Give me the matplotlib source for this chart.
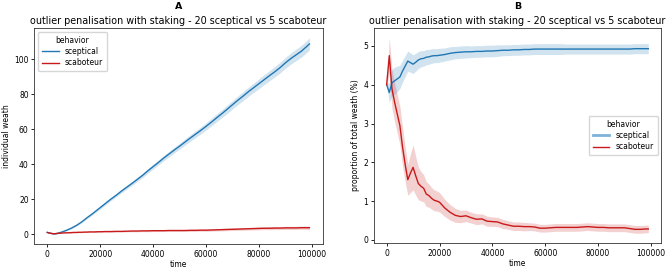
import matplotlib
matplotlib.use("Agg")
import matplotlib.pyplot as plt
from matplotlib.lines import Line2D
import numpy as np

# time grid (steps of 1000 early on, then 2000)
time = [0, 1000, 2000, 3000, 4000, 5000, 6000, 7000, 8000, 9000, 10000,
        11000, 12000, 13000, 14000, 15000, 16000, 17000, 18000, 19000, 20000,
        22000, 24000, 26000, 28000, 30000, 32000, 34000, 36000, 38000, 40000,
        42000, 44000, 46000, 48000, 50000, 52000, 54000, 56000, 58000, 60000,
        62000, 64000, 66000, 68000, 70000, 72000, 74000, 76000, 78000, 80000,
        82000, 84000, 86000, 88000, 90000, 92000, 94000, 96000, 98000, 99000]

# panel A: individual wealth
wealth_scept = [1.0, 0.6, 0.3, 0.2, 0.5, 1.0, 1.5, 2.1, 2.7, 3.4, 4.2,
                5.0, 6.0, 7.0, 8.2, 9.4, 10.5, 11.6, 12.8, 14.0, 15.2,
                17.6, 20.0, 22.2, 24.6, 26.8, 29.0, 31.3, 33.6, 36.2, 38.6,
                41.0, 43.5, 45.8, 48.1, 50.3, 52.6, 54.9, 57.1, 59.3, 61.6,
                64.0, 66.5, 68.9, 71.4, 74.0, 76.5, 78.9, 81.4, 83.7, 86.0,
                88.3, 90.6, 92.8, 95.2, 97.9, 100.3, 102.4, 104.5, 107.2, 108.6]
wealth_scept_ci = [0.1, 0.15, 0.2, 0.2, 0.25, 0.3, 0.3, 0.35, 0.35, 0.4, 0.45,
                   0.45, 0.5, 0.5, 0.55, 0.6, 0.6, 0.65, 0.7, 0.75, 0.8,
                   0.85, 0.9, 0.95, 1.0, 1.05, 1.1, 1.2, 1.25, 1.3, 1.4,
                   1.45, 1.5, 1.6, 1.65, 1.7, 1.75, 1.85, 1.9, 2.0, 2.1,
                   2.15, 2.2, 2.3, 2.35, 2.4, 2.5, 2.55, 2.6, 2.7, 2.8,
                   2.85, 2.9, 3.0, 3.05, 3.1, 3.2, 3.3, 3.35, 3.45, 3.5]
wealth_sabo = [1.0, 0.6, 0.3, 0.3, 0.5, 0.6, 0.7, 0.8, 0.8, 0.9, 1.0,
               1.0, 1.1, 1.1, 1.2, 1.2, 1.3, 1.3, 1.3, 1.4, 1.4,
               1.5, 1.5, 1.6, 1.6, 1.7, 1.8, 1.8, 1.9, 1.9, 2.0,
               2.0, 2.0, 2.1, 2.1, 2.1, 2.1, 2.2, 2.2, 2.3, 2.3,
               2.4, 2.5, 2.6, 2.7, 2.8, 2.9, 3.0, 3.1, 3.2, 3.3,
               3.4, 3.4, 3.5, 3.5, 3.6, 3.6, 3.6, 3.7, 3.7, 3.7]
wealth_sabo_ci = [0.1, 0.15, 0.15, 0.15, 0.2, 0.2, 0.2, 0.2, 0.2, 0.25, 0.25,
                  0.25, 0.25, 0.3, 0.3, 0.3, 0.3, 0.3, 0.35, 0.35, 0.35,
                  0.35, 0.4, 0.4, 0.4, 0.4, 0.45, 0.45, 0.45, 0.5, 0.5,
                  0.5, 0.5, 0.55, 0.55, 0.55, 0.6, 0.6, 0.6, 0.6, 0.65,
                  0.65, 0.65, 0.7, 0.7, 0.7, 0.75, 0.75, 0.75, 0.8, 0.8,
                  0.8, 0.85, 0.85, 0.85, 0.9, 0.9, 0.9, 0.9, 0.95, 0.95]

# panel B: proportion of total wealth (%)
share_scept = [4.0, 3.8, 4.05, 4.1, 4.15, 4.2, 4.35, 4.48, 4.61, 4.57, 4.53,
               4.58, 4.64, 4.67, 4.68, 4.71, 4.72, 4.74, 4.75, 4.75, 4.76,
               4.78, 4.81, 4.83, 4.84, 4.85, 4.85, 4.86, 4.86, 4.87, 4.87,
               4.88, 4.89, 4.89, 4.90, 4.90, 4.91, 4.91, 4.92, 4.92, 4.92,
               4.92, 4.92, 4.92, 4.92, 4.92, 4.92, 4.92, 4.92, 4.92, 4.92,
               4.92, 4.92, 4.92, 4.92, 4.92, 4.92, 4.93, 4.93, 4.93, 4.93]
share_scept_ci = [0.05, 0.25, 0.35, 0.35, 0.33, 0.3, 0.28, 0.27, 0.26, 0.25, 0.24,
                  0.23, 0.22, 0.21, 0.2, 0.2, 0.19, 0.19, 0.18, 0.18, 0.18,
                  0.17, 0.17, 0.16, 0.16, 0.16, 0.15, 0.15, 0.15, 0.15, 0.15,
                  0.15, 0.14, 0.14, 0.14, 0.14, 0.14, 0.14, 0.14, 0.14, 0.14,
                  0.14, 0.14, 0.14, 0.13, 0.13, 0.13, 0.13, 0.13, 0.13, 0.13,
                  0.13, 0.13, 0.13, 0.13, 0.13, 0.13, 0.13, 0.13, 0.13, 0.13]
share_sabo = [4.0, 4.75, 3.9, 3.55, 3.25, 2.95, 2.4, 1.95, 1.55, 1.72, 1.87,
              1.65, 1.45, 1.38, 1.33, 1.18, 1.14, 1.07, 1.02, 1.0, 0.97,
              0.82, 0.71, 0.63, 0.6, 0.62, 0.57, 0.53, 0.54, 0.48, 0.47,
              0.46, 0.41, 0.38, 0.35, 0.35, 0.34, 0.34, 0.33, 0.3, 0.3,
              0.31, 0.32, 0.32, 0.32, 0.32, 0.32, 0.33, 0.34, 0.33, 0.32,
              0.32, 0.31, 0.31, 0.31, 0.31, 0.29, 0.27, 0.27, 0.28, 0.28]
share_sabo_ci = [0.05, 0.46, 0.5, 0.5, 0.5, 0.5, 0.5, 0.45, 0.4, 0.5, 0.58,
                 0.5, 0.42, 0.38, 0.35, 0.32, 0.3, 0.28, 0.27, 0.26, 0.25,
                 0.22, 0.2, 0.18, 0.16, 0.15, 0.14, 0.14, 0.13, 0.13, 0.12,
                 0.12, 0.12, 0.11, 0.11, 0.11, 0.11, 0.1, 0.1, 0.1, 0.1,
                 0.1, 0.1, 0.1, 0.1, 0.1, 0.1, 0.1, 0.1, 0.1, 0.1,
                 0.1, 0.1, 0.1, 0.1, 0.1, 0.1, 0.1, 0.1, 0.1, 0.1]

title = "outlier penalisation with staking - 20 sceptical vs 5 scaboteur"
blue = "#1f77b4"
red = "#c81a1a"

plt.rcParams["font.family"] = "DejaVu Sans"
fig = plt.figure(figsize=(6.69, 2.69), dpi=100)
axA = fig.add_axes([0.0511, 0.0929, 0.4310, 0.803])
axB = fig.add_axes([0.5584, 0.0967, 0.4302, 0.799])

t = np.array(time)


def band(ax, m, ci, color, label):
    m = np.array(m)
    ci = np.array(ci)
    ax.fill_between(t, m - ci, m + ci, color=color, alpha=0.2, lw=0)
    ax.plot(t, m, color=color, lw=1.0, label=label)


band(axA, wealth_scept, wealth_scept_ci, blue, "sceptical")
band(axA, wealth_sabo, wealth_sabo_ci, red, "scaboteur")
band(axB, share_scept, share_scept_ci, blue, "sceptical")
band(axB, share_sabo, share_sabo_ci, red, "scaboteur")

fs = 5.5
for ax, letter, ylab in [(axA, "A", "individual weath"),
                         (axB, "B", "proportion of total weath (%)")]:
    ax.set_title(title, fontsize=6.9, pad=3)
    bb = ax.get_position()
    fig.text((bb.x0 + bb.x1) / 2, 1 - 6.5 / 269, letter, ha="center",
             va="center", fontsize=6.8, fontweight="bold")
    ax.set_xlabel("time", fontsize=fs, labelpad=1)
    ax.set_ylabel(ylab, fontsize=fs, labelpad=2)
    ax.tick_params(labelsize=fs, length=2.5, width=0.6, pad=1.5)
    ax.set_xticks([0, 20000, 40000, 60000, 80000, 100000])
    for s in ax.spines.values():
        s.set_linewidth(0.6)
        s.set_color("#333333")

axA.set_yticks([0, 20, 40, 60, 80, 100])
axB.set_yticks([0, 1, 2, 3, 4, 5])

axA.legend(title="behavior", loc="upper left", fontsize=fs,
           title_fontsize=fs, handlelength=2.2, framealpha=0.8,
           borderpad=0.5, labelspacing=0.3)

handles = [Line2D([], [], color="#7fb2d8", lw=2.0),
           Line2D([], [], color=red, lw=1.0)]
axB.legend(handles, ["sceptical", "scaboteur"], title="behavior",
           loc="center right", fontsize=fs, title_fontsize=fs,
           handlelength=2.2, framealpha=0.8, borderpad=0.5,
           labelspacing=0.3)

fig.savefig("out.png", dpi=100)
